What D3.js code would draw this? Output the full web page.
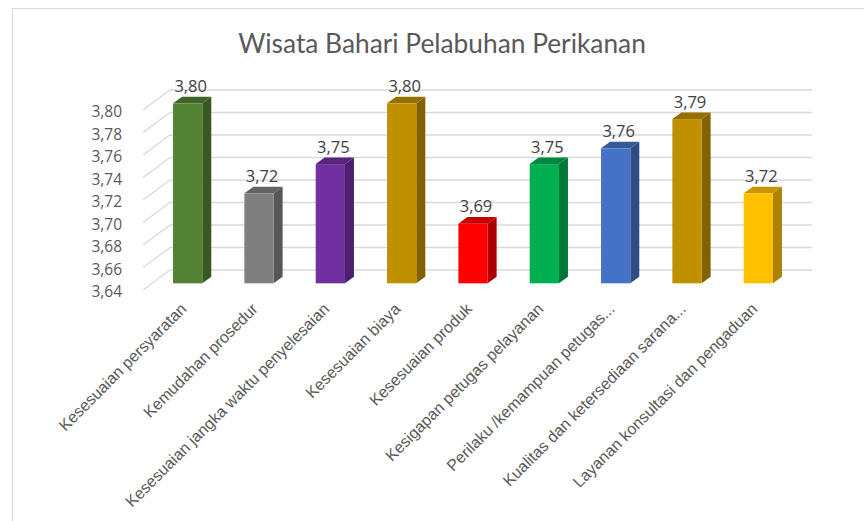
<!DOCTYPE html>
<html>
<head>
<meta charset="utf-8">
<script src="https://cdn.jsdelivr.net/npm/d3@7"></script>
<style>
  body { margin: 0; background: #fff; }
</style>
</head>
<body>
<div id="chart"></div>
<script>
const categories = ["Kesesuaian persyaratan", "Kemudahan prosedur", "Kesesuaian jangka waktu penyelesaian",
    "Kesesuaian biaya", "Kesesuaian produk", "Kesigapan petugas pelayanan",
    "Perilaku /kemampuan petugas...", "Kualitas dan ketersediaan sarana...", "Layanan konsultasi dan pengaduan"];
const values = [3.80, 3.72, 3.746, 3.80, 3.693, 3.746, 3.76, 3.786, 3.72];
const barColors = ["#548235", "#7f7f7f", "#7030a0", "#bf9000", "#ff0000", "#00b050", "#4472c4", "#bf9000", "#ffc000"];
const yTicks = [3.64, 3.66, 3.68, 3.70, 3.72, 3.74, 3.76, 3.78, 3.80];
const chartTitle = "Wisata Bahari Pelabuhan Perikanan";

const width = 864, height = 521;
const depth = {dx: 27, dy: -20}; // 3d depth of the floor

const svg = d3.select("#chart")
              .append("svg")
              .attr("width", width)
              .attr("height", height);

// chart area border
svg.append("rect")
   .attr("x", 12.5).attr("y", 8.5)
   .attr("width", width).attr("height", height)
   .attr("fill", "none")
   .attr("stroke", "#d9d9d9");

svg.append("text")
   .attr("x", 442)
   .attr("y", 43)
   .attr("text-anchor", "middle")
   .attr("dominant-baseline", "central")
   .style("font-family", "Lato, sans-serif")
   .style("font-size", "26.3px")
   .style("fill", "#595959")
   .text(chartTitle);

// front plane scales
const x = d3.scaleBand()
            .domain(categories)
            .range([143, 785])
            .paddingInner(0)
            .paddingOuter(0);

const y = d3.scaleLinear()
            .domain([3.64, 3.80])
            .range([290, 110]);

// back wall gridlines
svg.selectAll(".grid")
   .data(yTicks)
   .enter()
   .append("line")
   .attr("x1", 143 + depth.dx)
   .attr("x2", 785 + depth.dx)
   .attr("y1", d => y(d) + depth.dy)
   .attr("y2", d => y(d) + depth.dy)
   .attr("stroke", "#d9d9d9")
   .attr("stroke-width", 1.3);

// side wall diagonals
svg.selectAll(".diag")
   .data(yTicks)
   .enter()
   .append("line")
   .attr("x1", 143)
   .attr("x2", 143 + depth.dx)
   .attr("y1", d => y(d))
   .attr("y2", d => y(d) + depth.dy)
   .attr("stroke", "#d9d9d9")
   .attr("stroke-width", 1.3);

// y axis labels
svg.selectAll(".ylab")
   .data(yTicks)
   .enter()
   .append("text")
   .attr("x", 122)
   .attr("y", d => y(d) + 1)
   .attr("text-anchor", "end")
   .attr("dominant-baseline", "central")
   .style("font-family", "'Open Sans', sans-serif")
   .style("font-size", "15.5px")
   .style("fill", "#595959")
   .text(d => d.toFixed(2).replace(".", ","));

// bars: front face at 1/3 depth, back at 2/3 depth
const barW = x.bandwidth() * 0.41;
const f = {dx: depth.dx / 3, dy: depth.dy / 3};
const b = {dx: depth.dx * 2 / 3, dy: depth.dy * 2 / 3};

const bars = svg.selectAll(".bar")
                .data(categories.map((c, i) => ({cat: c, value: values[i], color: barColors[i]})))
                .enter()
                .append("g");

bars.each(function (d) {
    const g = d3.select(this);
    const x0 = x(d.cat) + x.bandwidth() / 2 - barW / 2 + f.dx;
    const x1 = x0 + barW;
    const yTop = y(d.value) + f.dy;
    const yBot = y(3.64) + f.dy;
    const ddx = b.dx - f.dx, ddy = b.dy - f.dy;
    const c = d3.color(d.color);

    // side
    g.append("polygon")
     .attr("points", [[x1, yTop], [x1 + ddx, yTop + ddy], [x1 + ddx, yBot + ddy], [x1, yBot]].join(" "))
     .attr("fill", c.darker(1.1));
    // top
    g.append("polygon")
     .attr("points", [[x0, yTop], [x0 + ddx, yTop + ddy], [x1 + ddx, yTop + ddy], [x1, yTop]].join(" "))
     .attr("fill", c.darker(0.7));
    // front
    g.append("rect")
     .attr("x", x0)
     .attr("y", yTop)
     .attr("width", barW)
     .attr("height", yBot - yTop)
     .attr("fill", d.color);

    g.append("text")
     .attr("x", (x0 + x1) / 2 + 3)
     .attr("y", yTop - 18)
     .attr("text-anchor", "middle")
     .attr("dominant-baseline", "central")
     .style("font-family", "'Open Sans', sans-serif")
     .style("font-size", "16.5px")
     .style("fill", "#404040")
     .text(d.value.toFixed(2).replace(".", ","));
});

// category labels
svg.selectAll(".xlab")
   .data(categories)
   .enter()
   .append("text")
   .attr("transform", d => "translate(" + (x(d) + x.bandwidth() / 2 + 5) + ",306)rotate(-45)")
   .attr("text-anchor", "end")
   .attr("dominant-baseline", "central")
   .style("font-family", "'Liberation Sans', Arial, sans-serif")
   .style("font-size", "16px")
   .style("fill", "#595959")
   .text(d => d);
</script>
</body>
</html>
